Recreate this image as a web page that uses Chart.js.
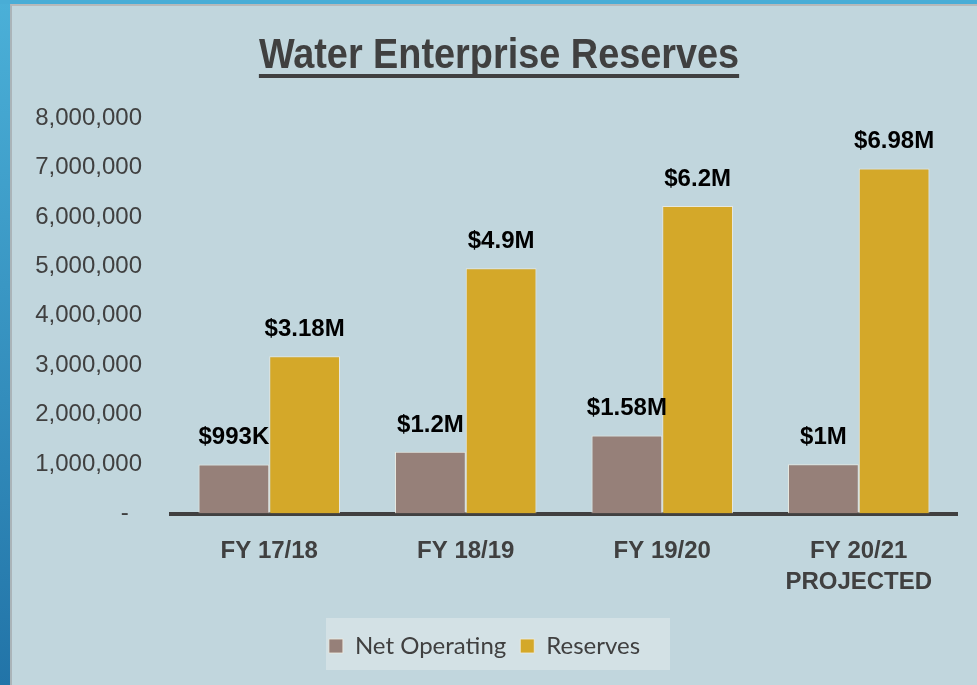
<!DOCTYPE html>
<html>
<head>
<meta charset="utf-8">
<script src="https://cdn.jsdelivr.net/npm/chart.js@4"></script>
<style>
  html, body { margin: 0; padding: 0; }
  body { width: 977px; height: 685px; overflow: hidden; position: relative;
         background: linear-gradient(#4bb0d8, #2274a8); }
  #topbar { position: absolute; left: 0; top: 0; width: 977px; height: 4px; background: #49add6; }
  #panel { position: absolute; left: 10px; top: 4px; width: 965px; height: 679px;
           border-left: 2px solid #aab4b8; border-top: 2px solid #b6b9ba; background: #c1d6dd; }
  #chart { display: block; }
</style>
</head>
<body>
<div id="topbar"></div>
<div id="panel"><canvas id="chart" width="965" height="679"></canvas></div>
<script>
// Chart data
const chartTitle = 'Water Enterprise Reserves';
const categories = ['FY 17/18', 'FY 18/19', 'FY 19/20', ['FY 20/21', 'PROJECTED']];
const netOperating = [993000, 1250000, 1580000, 1000000];
const reserves = [3180000, 4960000, 6220000, 6980000];
const netOperatingLabels = ['$993K', '$1.2M', '$1.58M', '$1M'];
const reservesLabels = ['$3.18M', '$4.9M', '$6.2M', '$6.98M'];
const seriesNames = ['Net Operating', 'Reserves'];

const textColor = '#404040';

/**
 * Title with underline, drawn above the plot (condensed bold)
 */
const titlePlugin = {
  id: 'underlinedTitle',
  afterDraw(chart) {
    const ctx = chart.ctx;
    const cx = 487;
    const squeeze = 0.88;
    ctx.save();
    ctx.font = "bold 43px 'Liberation Sans', Arial, sans-serif";
    ctx.fillStyle = textColor;
    ctx.textAlign = 'center';
    ctx.textBaseline = 'alphabetic';
    const w = ctx.measureText(chartTitle).width * squeeze;
    ctx.translate(cx, 0);
    ctx.scale(squeeze, 1);
    ctx.fillText(chartTitle, 0, 62);
    ctx.setTransform(1, 0, 0, 1, 0, 0);
    ctx.fillRect(cx - w / 2, 68, w, 4);
    ctx.restore();
  }
};

/**
 * Light box behind the legend
 */
const legendBoxPlugin = {
  id: 'legendBox',
  beforeDraw(chart) {
    const lg = chart.legend;
    if (!lg) return;
    const ctx = chart.ctx;
    const cx = 486;
    const cy = lg.top + lg.height / 2;
    ctx.save();
    ctx.fillStyle = '#d3e1e5';
    ctx.fillRect(cx - 172, cy - 26, 344, 52);
    ctx.restore();
  }
};

/**
 * Value labels above each bar
 */
const valueLabelPlugin = {
  id: 'valueLabels',
  afterDatasetsDraw(chart) {
    const ctx = chart.ctx;
    const texts = [netOperatingLabels, reservesLabels];
    ctx.save();
    ctx.font = "bold 24px 'Liberation Sans', Arial, sans-serif";
    ctx.fillStyle = '#000';
    ctx.textAlign = 'center';
    ctx.textBaseline = 'alphabetic';
    chart.data.datasets.forEach((ds, di) => {
      chart.getDatasetMeta(di).data.forEach((bar, i) => {
        ctx.fillText(texts[di][i], bar.x, bar.y - 20);
      });
    });
    ctx.restore();
  }
};

new Chart(document.getElementById('chart'), {
  type: 'bar',
  data: {
    labels: categories,
    datasets: [
      {
        label: seriesNames[0],
        data: netOperating,
        backgroundColor: '#968079',
        borderColor: 'rgba(240,236,225,0.8)',
        borderWidth: 1,
        categoryPercentage: 0.72,
        barPercentage: 1.0
      },
      {
        label: seriesNames[1],
        data: reserves,
        backgroundColor: '#d4a829',
        borderColor: 'rgba(240,236,225,0.8)',
        borderWidth: 1,
        categoryPercentage: 0.72,
        barPercentage: 1.0
      }
    ]
  },
  options: {
    responsive: false,
    animation: false,
    layout: { padding: { top: 112, right: 20, left: 0, bottom: 17 } },
    plugins: {
      title: { display: false },
      tooltip: { enabled: false },
      legend: {
        position: 'bottom',
        labels: {
          color: textColor,
          font: { family: "Lato, 'Open Sans', sans-serif", size: 24 },
          boxWidth: 14,
          boxHeight: 14,
          padding: 14
        }
      }
    },
    scales: {
      x: {
        grid: { display: false, drawTicks: false },
        border: { color: textColor, width: 4 },
        ticks: {
          color: textColor,
          padding: 22,
          maxRotation: 0,
          font: { family: "'Liberation Sans', Arial, sans-serif", size: 24, weight: 'bold', lineHeight: 1.3 }
        }
      },
      y: {
        min: 0,
        max: 8000000,
        grid: { display: false, drawTicks: false },
        border: { display: false },
        afterFit: scale => { scale.width = 159; },
        ticks: {
          stepSize: 1000000,
          color: textColor,
          padding: 29,
          font: { family: "'Liberation Sans', Arial, sans-serif", size: 24 },
          callback: v => v === 0 ? '-  ' : v.toLocaleString('en-US')
        }
      }
    }
  },
  plugins: [titlePlugin, legendBoxPlugin, valueLabelPlugin]
});
</script>
</body>
</html>
